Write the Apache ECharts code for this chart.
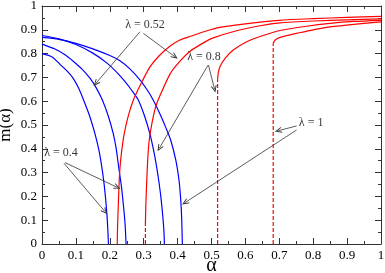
<!DOCTYPE html>
<html><head><meta charset="utf-8">
<script src="https://cdn.jsdelivr.net/npm/echarts@6/dist/echarts.min.js"></script>
<style>html,body{margin:0;padding:0;background:#fff}#c{width:385px;height:273px}</style>
</head><body><div id="c"></div>
<script>
// Blue branches m(alpha) for each lambda
const blue04 = [[0,.800],[.03,.786],[.053,.755],[.075,.725],[.092,.696],[.108,.655],[.122,.607],[.14,.54],[.156,.465],[.168,.393],[.176,.327],[.183,.255],[.188,.185],[.192,.115],[.1945,.05],[.196,0]];
const blue052 = [[0,.840],[.04,.818],[.07,.793],[.092,.768],[.118,.735],[.142,.696],[.16,.656],[.178,.605],[.195,.54],[.21,.465],[.219,.40],[.226,.325],[.234,.245],[.24,.165],[.245,.085],[.248,0]];
const blue08 = [[0,.876],[.05,.862],[.1,.838],[.15,.802],[.19,.762],[.22,.722],[.245,.682],[.265,.645],[.284,.605],[.302,.54],[.318,.465],[.329,.395],[.338,.325],[.346,.25],[.352,.18],[.357,.105],[.36,.045],[.361,0]];
const blue1 = [[0,.868],[.05,.86],[.1,.843],[.15,.82],[.2,.792],[.23,.77],[.26,.735],[.29,.688],[.31,.648],[.328,.605],[.35,.54],[.365,.49],[.38,.435],[.395,.35],[.404,.27],[.409,.19],[.412,.11],[.414,0]];
// Red branches
const red04 = [[.222,0],[.223,.08],[.225,.16],[.227,.24],[.23,.32],[.235,.39],[.242,.46],[.254,.535],[.269,.603],[.29,.668],[.319,.745],[.345,.79],[.378,.832],[.407,.857],[.437,.872],[.48,.893],[.525,.91],[.6,.925],[.7,.94],[.8,.947],[.9,.952],[1,.956]];
const red052 = [[.305,.08],[.306,.15],[.308,.23],[.311,.33],[.315,.42],[.322,.49],[.335,.575],[.35,.63],[.378,.715],[.407,.768],[.437,.81],[.476,.845],[.505,.866],[.574,.896],[.643,.917],[.702,.929],[.8,.937],[.9,.942],[1,.946]];
const red08 = [[.518,.69],[.52,.72],[.525,.745],[.54,.78],[.564,.815],[.604,.85],[.65,.875],[.702,.897],[.78,.915],[.85,.927],[.92,.935],[1,.94]];
const red1 = [[.682,.843],[.688,.857],[.70,.867],[.72,.875],[.751,.885],[.8,.9],[.85,.912],[.92,.923],[1,.933]];
// Dashed vertical jumps
const jump052 = [[.305,0],[.305,.08]];
const jump08 = [[.518,0],[.518,.69]];
const jump1 = [[.682,0],[.682,.843]];
// Annotations (text and arrows) in data coordinates
const labelTexts = ['λ = 0.4','λ = 0.52','λ = 0.8','λ = 1'];
const labelPos = [[.056,.382],[.304,.92],[.478,.786],[.794,.508]];
const arrows = [
  [[.068,.342],[.222,.238]], [[.065,.339],[.186,.136]],
  [[.289,.892],[.159,.675]], [[.299,.885],[.392,.787]],
  [[.491,.752],[.509,.651]], [[.49,.752],[.346,.402]],
  [[.751,.496],[.697,.476]], [[.751,.479],[.422,.174]]
];
const xTicks = {min:0,max:1,interval:0.1};
const yTicks = {min:0,max:1,interval:0.1};

const FONT = 'Liberation Serif';
const AX = '#333';
function axis(pos, isX, showLabel){
  const t = isX ? xTicks : yTicks;
  return {
    type:'value', min:t.min, max:t.max, interval:t.interval, position:pos,
    axisLine:{show:true, onZero:false, lineStyle:{color:AX,width:1}},
    axisTick:{show:true, inside:true, length:6, lineStyle:{color:AX,width:1}},
    minorTick:{show:true, splitNumber:2, length:3, lineStyle:{color:AX,width:1}},
    splitLine:{show:false},
    axisLabel:{show:showLabel, color:'#000', fontFamily:FONT, fontSize:13, margin:5, hideOverlap:false},
    name: showLabel ? (isX?'α':'m(α)') : '',
    nameLocation:'middle', nameGap: isX?12:28, nameRotate: isX?0:90, nameMoveOverlap:false,
    nameTextStyle:{color:'#000', fontFamily:FONT, fontSize:isX?20:17}
  };
}
function curve(d, color, dashed){
  return {type:'line', data:d, showSymbol:false, symbol:'none', smooth:dashed?false:0.25, silent:true,
    lineStyle:{color:color, width:1.2, type:dashed?[4,2]:'solid'}, z:3};
}
const chevron = 'path://M5,0 L10,10 L8.4,10 L5,3.6 L1.6,10 L0,10 Z';
const chart = echarts.init(document.getElementById('c'), null, {renderer:'canvas'});
chart.setOption({
  animation:false,
  grid:{left:42,right:4,top:6,bottom:29,containLabel:false,outerBoundsMode:'none'},
  xAxis:[axis('bottom',true,true), axis('top',true,false)],
  yAxis:[axis('left',false,true), axis('right',false,false)],
  series:[
    curve(blue04,'#0000ff'), curve(blue052,'#0000ff'), curve(blue08,'#0000ff'), curve(blue1,'#0000ff'),
    curve(red04,'#ff0000'), curve(red052,'#ff0000'), curve(red08,'#ff0000'), curve(red1,'#ff0000'),
    curve(jump052,'#ff0000',true), curve(jump08,'#ff0000',true), curve(jump1,'#ff0000',true),
    {type:'scatter', symbolSize:0, silent:true, z:5,
     data: labelTexts.map((t,i)=>({name:t, value:labelPos[i]})),
     label:{show:true, position:'inside', formatter:'{b}', color:'#000', fontFamily:FONT, fontSize:12},
     markLine:{silent:true, symbol:['none',chevron], symbolSize:[6,7], animation:false,
       lineStyle:{color:'#333', width:0.8, type:'solid'}, label:{show:false},
       data: arrows.map(a=>[{coord:a[0]},{coord:a[1]}])}
    }
  ]
});
</script></body></html>
